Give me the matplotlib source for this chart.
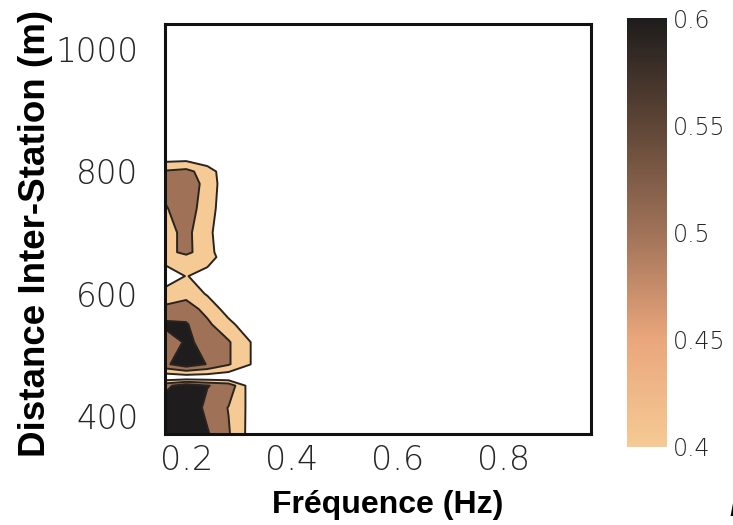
import matplotlib
matplotlib.use('Agg')
import numpy as np
import matplotlib.pyplot as plt
from matplotlib.colors import LinearSegmentedColormap, Normalize
from matplotlib.cm import ScalarMappable

# frequency samples (Hz) and inter-station distances (m)
freq = [0.16, 0.20, 0.24, 0.28, 0.32, 0.36, 0.40, 0.50, 0.60, 0.70, 0.80, 0.90, 0.96]
dist = [371, 414, 450, 463, 485, 521, 550, 575, 600, 629, 660, 668, 700, 740, 780, 800, 830, 900, 1041]

# coherence, one row per distance, one column per frequency
coh = [
    [0.70, 0.72, 0.61, 0.51, 0.37, 0.30, 0.28, 0.26, 0.24, 0.23, 0.22, 0.21, 0.21],
    [0.66, 0.68, 0.573, 0.496, 0.376, 0.30, 0.27, 0.25, 0.24, 0.23, 0.22, 0.21, 0.20],
    [0.57, 0.66, 0.604, 0.568, 0.358, 0.28, 0.26, 0.25, 0.23, 0.22, 0.21, 0.21, 0.20],
    [0.32, 0.33, 0.33, 0.32, 0.28, 0.25, 0.24, 0.23, 0.22, 0.22, 0.21, 0.20, 0.20],
    [0.58, 0.66, 0.595, 0.51, 0.405, 0.30, 0.27, 0.25, 0.23, 0.22, 0.21, 0.21, 0.20],
    [0.53, 0.615, 0.575, 0.51, 0.405, 0.30, 0.27, 0.25, 0.24, 0.22, 0.21, 0.20, 0.20],
    [0.625, 0.61, 0.52, 0.43, 0.335, 0.28, 0.26, 0.24, 0.23, 0.22, 0.21, 0.20, 0.20],
    [0.52, 0.545, 0.47, 0.355, 0.30, 0.27, 0.25, 0.24, 0.23, 0.22, 0.21, 0.20, 0.19],
    [0.45, 0.47, 0.39, 0.32, 0.29, 0.26, 0.25, 0.23, 0.22, 0.21, 0.21, 0.20, 0.19],
    [0.318, 0.405, 0.36, 0.30, 0.27, 0.25, 0.24, 0.23, 0.22, 0.21, 0.20, 0.20, 0.19],
    [0.46, 0.47, 0.445, 0.34, 0.29, 0.26, 0.25, 0.23, 0.22, 0.21, 0.20, 0.19, 0.19],
    [0.46, 0.53, 0.43, 0.34, 0.29, 0.26, 0.25, 0.23, 0.22, 0.21, 0.20, 0.19, 0.19],
    [0.46, 0.53, 0.42, 0.34, 0.29, 0.26, 0.24, 0.23, 0.22, 0.21, 0.20, 0.19, 0.19],
    [0.49, 0.56, 0.44, 0.34, 0.28, 0.25, 0.24, 0.23, 0.21, 0.20, 0.20, 0.19, 0.18],
    [0.54, 0.58, 0.455, 0.34, 0.28, 0.25, 0.24, 0.22, 0.21, 0.20, 0.19, 0.19, 0.18],
    [0.51, 0.53, 0.45, 0.33, 0.27, 0.25, 0.23, 0.22, 0.21, 0.20, 0.19, 0.18, 0.18],
    [0.30, 0.30, 0.28, 0.27, 0.25, 0.24, 0.23, 0.22, 0.21, 0.20, 0.19, 0.18, 0.18],
    [0.26, 0.27, 0.25, 0.24, 0.23, 0.22, 0.21, 0.21, 0.20, 0.19, 0.18, 0.18, 0.17],
    [0.22, 0.23, 0.22, 0.21, 0.20, 0.20, 0.19, 0.19, 0.18, 0.18, 0.17, 0.17, 0.17],
]

levels = [0.4, 0.5, 0.6]
cbar_ticks = [0.4, 0.45, 0.5, 0.55, 0.6]
cbar_labels = ['0.4', '0.45', '0.5', '0.55', '0.6']

# light tan -> brown -> black
cmap = LinearSegmentedColormap.from_list(
    'tan_brown', ['#f5ca94', '#eaa67c', '#a07258', '#5f4636', '#1e1c1c'])
norm = Normalize(0.4, 0.6)

fig = plt.figure(figsize=(7.33, 5.25), dpi=100)
ax = fig.add_axes([165 / 733, 91 / 525, 426 / 733, 410 / 525])

Z = np.array(coh)
fill_colors = [cmap(norm(v)) for v in levels]
ax.contourf(freq, dist, Z, levels=levels + [1.0], colors=fill_colors)
ax.contour(freq, dist, Z, levels=levels, colors='#2a2420', linewidths=1.4)

ax.set_xlim(0.16, 0.965)
ax.set_ylim(371, 1041)
ax.set_xticks([0.2, 0.4, 0.6, 0.8])
ax.set_xticklabels(['0.2', '0.4', '0.6', '0.8'])
ax.set_yticks([400, 600, 800, 1000])
ax.set_yticklabels(['400', '600', '800', '1000'])
ax.tick_params(axis='both', length=0, colors='#262626')
ax.tick_params(axis='x', labelsize=24, pad=7)
ax.tick_params(axis='y', labelsize=23.5, pad=19)
for lab in ax.get_xticklabels() + ax.get_yticklabels():
    lab.set_family('DejaVu Sans')
    lab.set_weight('light')
for sp in ax.spines.values():
    sp.set_linewidth(2.2)
    sp.set_color('#111111')

fig.text(388 / 733, 1 - 505 / 525, 'Fréquence (Hz)', ha='center', va='center',
         fontsize=23, fontweight='bold', family='Liberation Sans')
fig.text(36 / 733, 1 - 233 / 525, 'Distance Inter-Station (m)', ha='center', va='center',
         rotation=90, fontsize=26.5, fontweight='bold', family='Liberation Sans')

# colorbar
cax = fig.add_axes([627 / 733, 78 / 525, 40 / 733, 429 / 525])
cb = fig.colorbar(ScalarMappable(norm=norm, cmap=cmap), cax=cax, ticks=cbar_ticks)
cb.ax.set_yticklabels(cbar_labels)
cb.outline.set_visible(False)
cb.ax.tick_params(length=0, labelsize=17, colors='#262626', pad=4)
for lab in cb.ax.get_yticklabels():
    lab.set_family('DejaVu Sans')
    lab.set_weight('light')

fig.text(729 / 733, 2 / 525, 'b', ha='left', va='bottom', fontsize=22,
         fontweight='bold', fontstyle='italic', family='Liberation Sans')

fig.savefig('out.png', dpi=100)
